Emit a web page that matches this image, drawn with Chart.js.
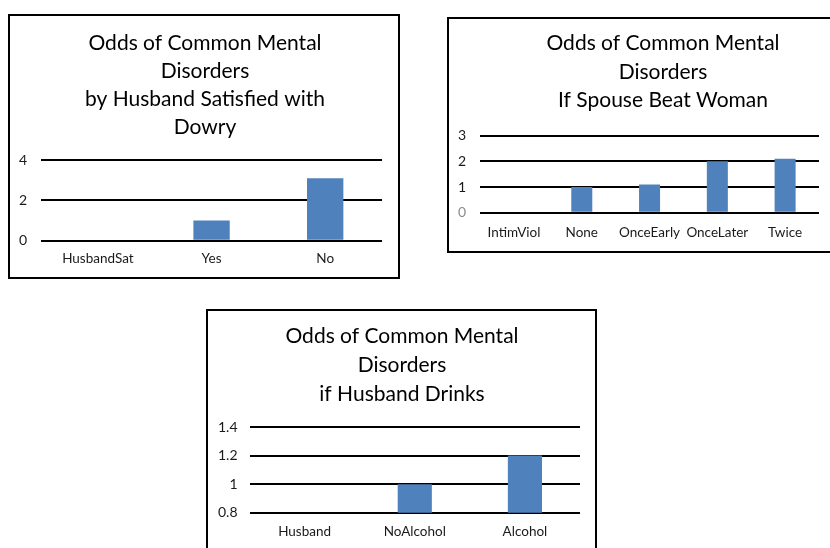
<!DOCTYPE html>
<html>
<head>
<meta charset="utf-8">
<script src="https://cdn.jsdelivr.net/npm/chart.js@4.4.1/dist/chart.umd.min.js"></script>
<style>
  html, body { margin: 0; padding: 0; background: #fff; overflow: hidden; width: 830px; height: 548px; }
  .box { position: absolute; border: 2px solid #000; box-sizing: border-box; background: #fff; overflow: hidden; }
  .box canvas { display: block; }
</style>
</head>
<body>
<div class="box" id="boxDowry" style="left:8px; top:14px; width:392px; height:265px;">
  <canvas id="dowry" width="388" height="261"></canvas>
</div>
<div class="box" id="boxBeat" style="left:447px; top:17px; width:432px; height:236px;">
  <canvas id="beat" width="428" height="232"></canvas>
</div>
<div class="box" id="boxDrink" style="left:206px; top:309px; width:391px; height:254px;">
  <canvas id="drink" width="387" height="250"></canvas>
</div>

<script>
//-----------Chart data-----------
const dowryLabels = ["HusbandSat", "Yes", "No"];
const dowryOdds = [null, 1.0, 3.1];
const dowryTicks = [0, 2, 4];

const beatLabels = ["IntimViol", "None", "OnceEarly", "OnceLater", "Twice"];
const beatOdds = [null, 1.0, 1.1, 2.0, 2.1];
const beatTicks = [0, 1, 2, 3];

const drinkLabels = ["Husband", "NoAlcohol", "Alcohol"];
const drinkOdds = [null, 1.0, 1.2];
const drinkTicks = [0.8, 1.0, 1.2, 1.4];

const dowryTitle = ["Odds of Common Mental", "Disorders", "by Husband Satisfied with", "Dowry"];
const beatTitle = ["Odds of Common Mental", "Disorders", "If Spouse Beat Woman"];
const drinkTitle = ["Odds of Common Mental", "Disorders", "if Husband Drinks"];

Chart.defaults.font.family = "Lato, 'Open Sans', sans-serif";
Chart.defaults.color = "#1a1a1a";

const barBlue = "#4F81BD";

// keep the title centred on the whole frame, not on the padded layout box
const centerTitle = {
  id: "centerTitle",
  afterLayout(chart, args, pluginOpts) {
    const t = chart.titleBlock;
    if (!t) return;
    t.left = 0;
    t.right = pluginOpts.center * 2;
    t.width = t.right;
  }
};

// one bordered Excel-style column chart
function makeChart(id, labels, values, ticks, title, opts) {
  const ctx = document.getElementById(id).getContext("2d");
  return new Chart(ctx, {
    type: "bar",
    data: {
      labels: labels,
      datasets: [{
        data: values,
        backgroundColor: barBlue,
        borderWidth: 0,
        categoryPercentage: 1,
        barPercentage: opts.barPct,
      }]
    },
    plugins: [centerTitle],
    options: {
      responsive: false,
      animation: false,
      // tick padding is reserved on both sides of the labels, so the
      // outer layout padding is trimmed by the same amount
      layout: {
        padding: { left: opts.left, right: opts.right, top: 0, bottom: opts.bottom }
      },
      scales: {
        x: {
          grid: { display: false, drawTicks: false },
          border: { display: false },
          ticks: {
            padding: opts.xPad,
            maxRotation: 0,
            autoSkip: false,
            font: { size: 13.5 },
            color: "#1a1a1a"
          }
        },
        y: {
          min: ticks[0],
          max: ticks[ticks.length - 1],
          afterBuildTicks: axis => {
            axis.ticks = ticks.map(v => ({ value: v }));
          },
          grid: { color: "#000", lineWidth: 2, drawTicks: false },
          border: { display: false },
          ticks: {
            padding: opts.yPad,
            font: { size: 14 },
            color: ctx => (opts.grayZero && ctx.tick.value === 0) ? "#8c8c8c" : "#1a1a1a",
            callback: v => String(+Number(v).toFixed(1))
          }
        }
      },
      plugins: {
        legend: { display: false },
        tooltip: { enabled: false },
        centerTitle: { center: opts.titleCenter },
        title: {
          display: true,
          text: title,
          color: "#000",
          font: { size: 21, weight: "normal", lineHeight: opts.titleLH },
          padding: { top: opts.titleTop, bottom: opts.titleBottom }
        }
      }
    }
  });
}

makeChart("dowry", dowryLabels, dowryOdds, dowryTicks, dowryTitle, {
  barPct: 0.32, left: -5, right: 16, bottom: 0, xPad: 10, yPad: 14,
  titleLH: 28 / 21, titleTop: 13, titleBottom: 19, titleCenter: 195
});

makeChart("beat", beatLabels, beatOdds, beatTicks, beatTitle, {
  barPct: 0.31, left: -5, right: 58, bottom: -2, xPad: 12, yPad: 14,
  titleLH: 28.5 / 21, titleTop: 10, titleBottom: 21, grayZero: true, titleCenter: 214
});

makeChart("drink", drinkLabels, drinkOdds, drinkTicks, drinkTitle, {
  barPct: 0.31, left: -2, right: 15, bottom: 10, xPad: 11, yPad: 12,
  titleLH: 29 / 21, titleTop: 11, titleBottom: 18, titleCenter: 194
});
</script>
</body>
</html>
